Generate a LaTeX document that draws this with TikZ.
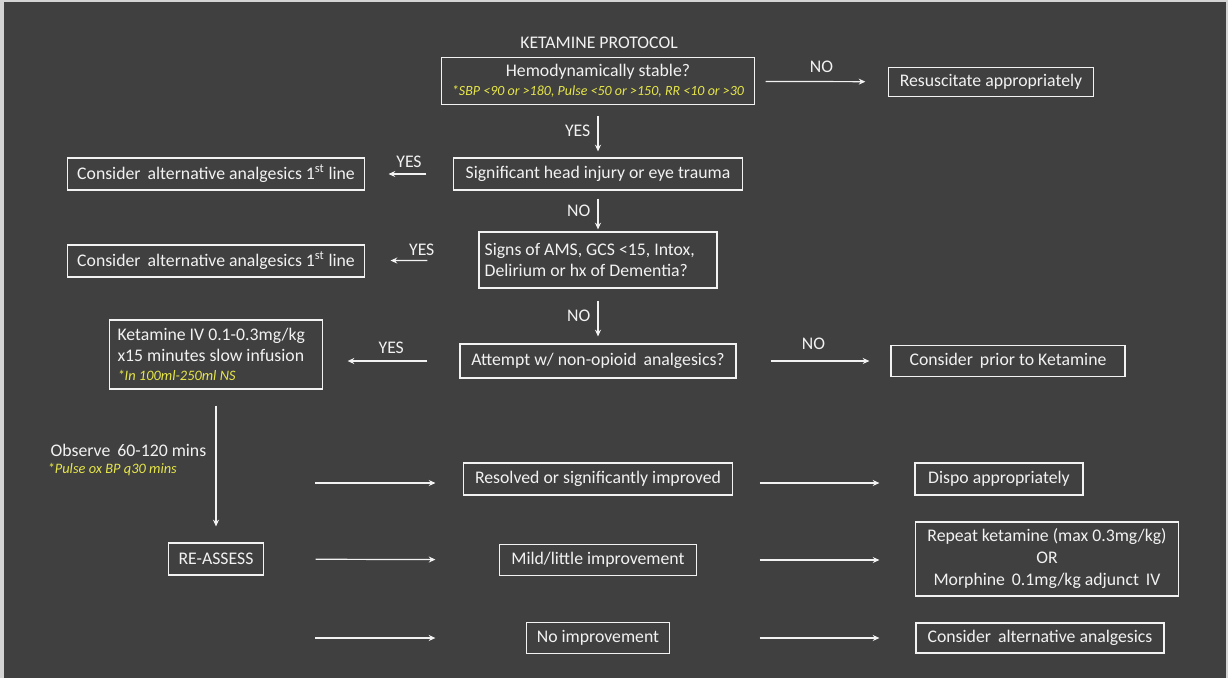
\documentclass[tikz,border=0pt]{standalone}
\usepackage{fontspec}
\setmainfont{Carlito}
\usetikzlibrary{arrows.meta,positioning}
\definecolor{bgdark}{HTML}{404040}
\definecolor{rimgray}{HTML}{D4D4D4}
\definecolor{inkwhite}{HTML}{F2F2F2}
\definecolor{noteyellow}{HTML}{E6E64A}
\newcommand{\yel}[2][10.8]{{\color{noteyellow}\fontsize{#1}{13}\selectfont\itshape #2}}

\begin{document}
\begin{tikzpicture}[x=0.75pt,y=-0.75pt,>={Stealth[length=5pt,width=4.5pt]},
    box/.style={draw=inkwhite,line width=0.9pt,text=inkwhite,inner sep=0pt,align=center,font=\fontsize{13.3}{16}\selectfont},
    lbl/.style={text=inkwhite,font=\fontsize{13.3}{16}\selectfont},
    flow/.style={inkwhite,line width=0.9pt}]
    \fill[rimgray] (0,0) rectangle (1228,678);
    \fill[bgdark] (4,2) rectangle (1226,678);

    \node[lbl] (title) at (599,43) {KETAMINE PROTOCOL};
    \node[box,minimum width=234.75pt,minimum height=35.25pt] (hemo) at (598,81)
      {Hemodynamically stable?\\[-2pt]\yel[10.5]{*SBP <90 or >180, Pulse <50 or >150, RR <10 or >30}};
    \node[box,minimum width=153.75pt,minimum height=21.75pt] (resus) at (991,82) {Resuscitate appropriately};
    \node[box,minimum width=216.75pt,minimum height=24pt] (head) at (598,174) {Significant head injury or eye trauma};
    \node[box,minimum width=222.75pt,minimum height=24pt] (alt1) at (216,174) {Consider\, alternative analgesics 1\textsuperscript{st} line};
    \node[box,minimum height=42pt,align=flush left,text width=170pt,inner xsep=4.25pt] (ams) at (598,260)
      {Signs of AMS, GCS <15, Intox,\\Delirium or hx of Dementia?};
    \node[box,minimum width=222.75pt,minimum height=24pt] (alt2) at (216,261) {Consider\, alternative analgesics 1\textsuperscript{st} line};
    \node[box,minimum width=207pt,minimum height=25.5pt] (attempt) at (598,361) {Attempt w/ non-opioid\, analgesics?};
    \node[box,minimum height=51.75pt,align=flush left,text width=147.75pt,inner xsep=6pt] (ket) at (216,354.5)
      {Ketamine IV 0.1-0.3mg/kg\\x15 minutes slow infusion\\[-2pt]\yel{*In 100ml-250ml NS}};
    \node[box,minimum width=175.5pt,minimum height=23.25pt] (prior) at (1008,361) {Consider\, prior to Ketamine};
    \node[lbl,anchor=west,align=left] (observe) at (43,460)
      {\,Observe\, 60-120 mins\\[-3pt]\yel{*Pulse ox BP q30 mins}};
    \node[box,minimum width=71.25pt,minimum height=24pt] (reassess) at (216,559) {RE-ASSESS};
    \node[box,minimum width=201.75pt,minimum height=24pt] (resolved) at (598,479) {Resolved or significantly improved};
    \node[box,minimum width=147.75pt,minimum height=23.25pt] (mild) at (598,560) {Mild/little improvement};
    \node[box,minimum width=107.25pt,minimum height=23.25pt] (noimp) at (598,638) {No improvement};
    \node[box,minimum width=126pt,minimum height=24pt] (dispo) at (999,479) {Dispo appropriately};
    \node[box,minimum width=197.25pt,minimum height=55.5pt,font=\fontsize{13.3}{16.5}\selectfont] (repeat) at (1047,559)
      {Repeat ketamine (max 0.3mg/kg)\\OR\\Morphine\, 0.1mg/kg adjunct\, IV};
    \node[box,minimum width=186pt,minimum height=22.5pt] (altlast) at (1040,638) {Consider\, alternative analgesics};
    \coordinate (row1) at (315,483);
    \coordinate (row3) at (315,638);

    \path[->,flow]
    (hemo) edge[shorten <=7.9pt,shorten >=16.9pt] node[lbl,above=3pt] {NO} (resus)
    (hemo) edge[shorten <=7.9pt,shorten >=4.5pt] node[lbl,left=2pt] {YES} (head)
    (head) edge[shorten <=19.9pt,shorten >=17.6pt] node[lbl,above=1pt] {YES} (alt1)
    (head) edge[shorten <=6pt,shorten >=1.5pt] node[lbl,left=2pt] {NO} (ams)
    (ams) edge[shorten <=38.25pt,shorten >=19.1pt] node[lbl,above=0pt] {YES} (alt2)
    (ams) edge[shorten <=9pt,shorten >=5.25pt] node[lbl,left=2pt] {NO} (attempt)
    (attempt) edge[shorten <=24pt,shorten >=18.4pt] node[lbl,above=2pt] {YES} (ket.east |- attempt)
    (attempt) edge[shorten <=25.5pt,shorten >=15.75pt] node[lbl,above=5pt] {NO} (prior)
    (ket) edge[shorten <=12pt,shorten >=12pt] (reassess)
    (row1) edge[shorten >=20.6pt] (resolved.west |- row1)
    (reassess) edge[shorten <=38.6pt,shorten >=47.6pt] (mild)
    (row3) edge[shorten >=67.9pt] (noimp)
    (resolved.east |- row1) edge[shorten <=19.9pt,shorten >=26.25pt] (dispo.west |- row1)
    (mild) edge[shorten <=46.9pt,shorten >=26.6pt] (repeat.west |- mild)
    (noimp) edge[shorten <=67.1pt,shorten >=27pt] (altlast)
    ;
\end{tikzpicture}
\end{document}
